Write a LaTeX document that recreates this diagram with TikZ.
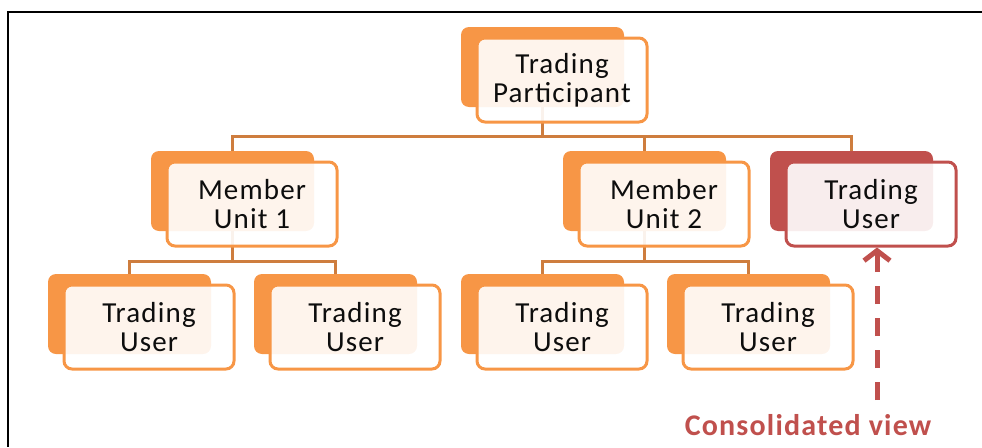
\documentclass[tikz,border=0pt]{standalone}
\usepackage{fontspec}
\setmainfont{Carlito}
\newfontfamily\unitfont[LetterSpace=4]{Carlito}
\usetikzlibrary{arrows.meta}

\definecolor{unitorange}{HTML}{F79646}
\definecolor{unitred}{HTML}{C0504D}
\definecolor{linkbrown}{HTML}{CE7D3E}
\definecolor{unittext}{HTML}{0D0D0D}

\begin{document}
\begin{tikzpicture}[x=1pt, y=-1pt,
    unitback/.style={fill=#1, draw=none, rounded corners=8pt, minimum width=163pt, minimum height=80pt, inner sep=0pt},
    unitback/.default=unitorange,
    unitfront/.style={draw=#1, fill=white, fill opacity=0.9, text opacity=1, line width=3pt, rounded corners=8pt,
        minimum width=170pt, minimum height=84pt, inner sep=0pt, align=center, text=unittext,
        font=\unitfont\fontsize{29}{29}\selectfont},
    unitfront/.default=unitorange,
    link/.style={draw=linkbrown, line width=3pt},
    viewarrow/.style={draw=unitred, line width=5pt, dash pattern=on 18pt off 14pt,
        -{Straight Barb[length=10pt, width=26pt]}}
    ]
    \useasboundingbox (0,0) rectangle (982,447);

    % frame
    \draw[line width=2pt] (982,12) -- (8,12) -- (8,447);

    % back plates
    \node[unitback] (tp-b) at (542.5, 67) {};
    \node[unitback] (mu1-b) at (232.5, 191) {};
    \node[unitback] (mu2-b) at (644.5, 191) {};
    \node[unitback=unitred] (tuc-b) at (851.5, 191) {};
    \node[unitback] (tu1-b) at (129.5, 314) {};
    \node[unitback] (tu2-b) at (335.5, 314) {};
    \node[unitback] (tu3-b) at (542.5, 314) {};
    \node[unitback] (tu4-b) at (748.5, 314) {};

    % connectors
    \draw[link] (tp-b.south) -- ++(0,29) -| (mu1-b.north);
    \draw[link] (tp-b.south) -- ++(0,29) -| (mu2-b.north);
    \draw[link] (tp-b.south) -- ++(0,29) -| (tuc-b.north);
    \draw[link] (mu1-b.south) -- ++(0,30) -| (tu1-b.north);
    \draw[link] (mu1-b.south) -- ++(0,30) -| (tu2-b.north);
    \draw[link] (mu2-b.south) -- ++(0,30) -| (tu3-b.north);
    \draw[link] (mu2-b.south) -- ++(0,30) -| (tu4-b.north);

    % text boxes
    \node[unitfront] (tp) at ([shift={(19.5,13)}]tp-b.center) {Trading\\Participant};
    \node[unitfront] (mu1) at ([shift={(19.5,13)}]mu1-b.center) {Member\\Unit 1};
    \node[unitfront] (mu2) at ([shift={(19.5,13)}]mu2-b.center) {Member\\Unit 2};
    \node[unitfront=unitred] (tuc) at ([shift={(19.5,13)}]tuc-b.center) {Trading\\User};
    \node[unitfront] (tu1) at ([shift={(19.5,13)}]tu1-b.center) {Trading\\User};
    \node[unitfront] (tu2) at ([shift={(19.5,13)}]tu2-b.center) {Trading\\User};
    \node[unitfront] (tu3) at ([shift={(19.5,13)}]tu3-b.center) {Trading\\User};
    \node[unitfront] (tu4) at ([shift={(19.5,13)}]tu4-b.center) {Trading\\User};

    % consolidated view
    \node[text=unitred, font=\unitfont\fontsize{30}{32}\selectfont\bfseries] (cv) at (808, 425) {Consolidated view};
    \coordinate (cv-tail) at (877, 400);
    \draw[viewarrow] (cv-tail) -- (cv-tail |- tuc.south);
\end{tikzpicture}
\end{document}
